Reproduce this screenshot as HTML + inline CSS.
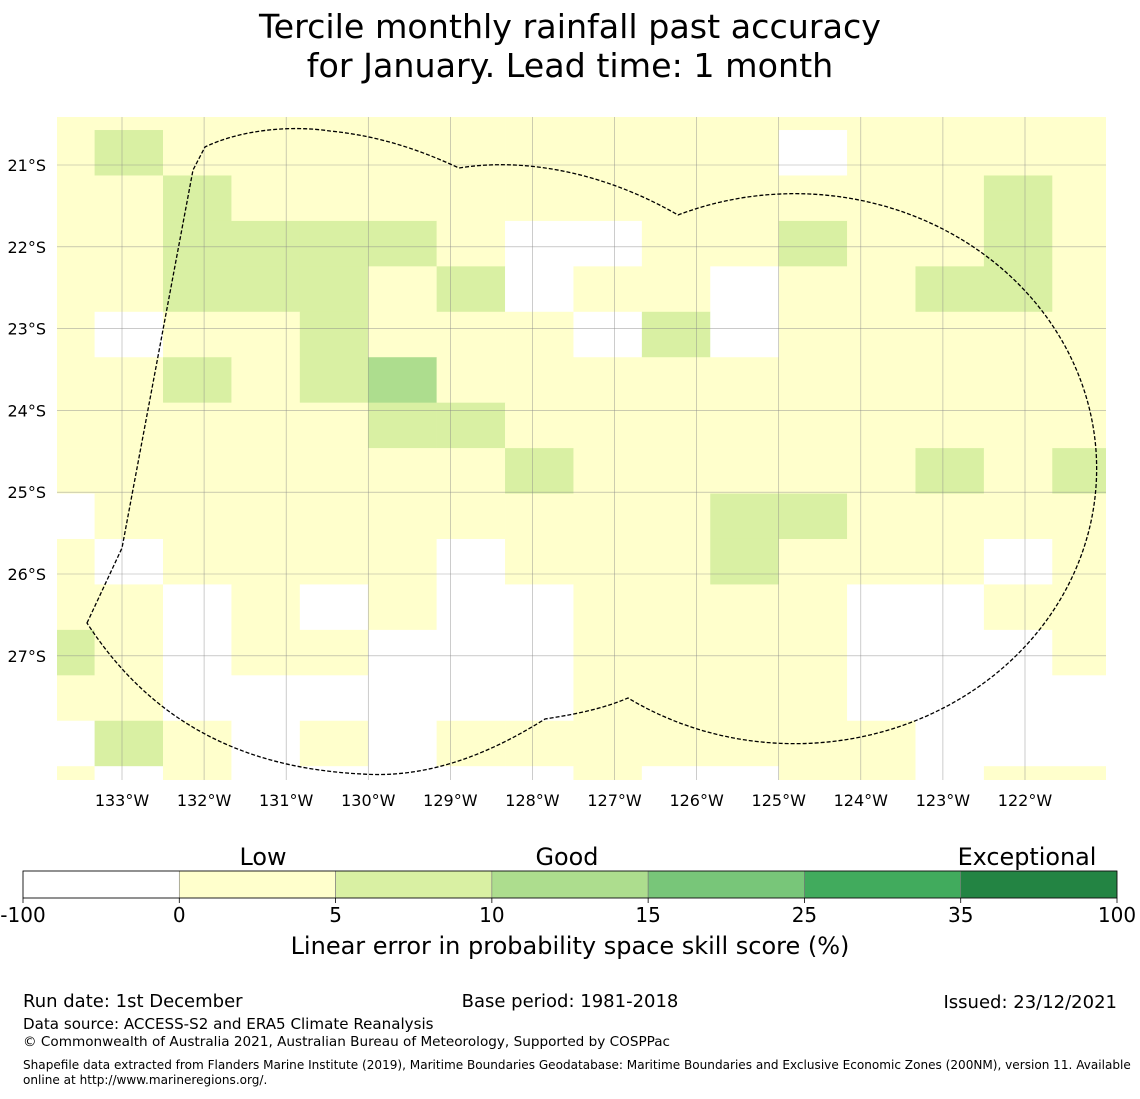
<!DOCTYPE html>
<html><head><meta charset="utf-8">
<style>
html,body{margin:0;padding:0;background:#fff;}
body{width:1140px;height:1095px;overflow:hidden;font-family:"DejaVu Sans","Liberation Sans",sans-serif;}
svg text{font-family:"DejaVu Sans","Liberation Sans",sans-serif;fill:#000;}
</style></head>
<body>
<svg id="chart" width="1140" height="1095" viewBox="0 0 1140 1095" xmlns="http://www.w3.org/2000/svg">
<g>
<text x="570" y="38" font-size="33.3" text-anchor="middle">Tercile monthly rainfall past accuracy</text>
<text x="570" y="77" font-size="33.3" text-anchor="middle">for January. Lead time: 1 month</text>
</g>
<defs><clipPath id="mapclip"><rect x="57" y="117" width="1049" height="663"/></clipPath></defs>
<g id="cells" clip-path="url(#mapclip)"></g>
<g id="grid" clip-path="url(#mapclip)"></g>
<path fill="none" stroke="#000" stroke-width="1.3" stroke-dasharray="4,2"
 d="M87,623 L122,548 L193,170 L205,147 C240,130 290,125 330,131 C380,136 420,150 459,168 C520,158 600,170 678,215 A302 275 0 1 1 628,698 C600,710 570,715 545,719 C480,760 420,778 362,774 C240,768 150,720 87,623 Z"/>
<g id="ticks"></g>
<g id="cbar"></g>
<g font-size="23.9">
<text x="263" y="865" text-anchor="middle">Low</text>
<text x="567" y="865" text-anchor="middle">Good</text>
<text x="1027" y="865" text-anchor="middle">Exceptional</text>
</g>
<text x="570" y="954" font-size="24" text-anchor="middle">Linear error in probability space skill score (%)</text>
<g>
<text x="23" y="1007" font-size="18">Run date: 1st December</text>
<text x="570" y="1007" font-size="18" text-anchor="middle">Base period: 1981-2018</text>
<text x="1117" y="1008" font-size="18" text-anchor="end">Issued: 23/12/2021</text>
<text x="23" y="1029" font-size="15.1">Data source: ACCESS-S2 and ERA5 Climate Reanalysis</text>
<text x="23" y="1046" font-size="13.6">© Commonwealth of Australia 2021, Australian Bureau of Meteorology, Supported by COSPPac</text>
<text x="23" y="1069" font-size="12.07">Shapefile data extracted from Flanders Marine Institute (2019), Maritime Boundaries Geodatabase: Maritime Boundaries and Exclusive Economic Zones (200NM), version 11. Available</text>
<text x="23" y="1084" font-size="12.07">online at http://www.marineregions.org/.</text>
</g>
</svg>
<script>
// data
const lonTicks = [-133,-132,-131,-130,-129,-128,-127,-126,-125,-124,-123,-122];
const latTicks = [-21,-22,-23,-24,-25,-26,-27];
const cellLon0 = -134.167, cellDLon = 0.8333;
const cellLat0 = -20.017, cellDLat = 0.5555;
// category per cell: 0 white(<0), 1 (0-5), 2 (5-10), 3 (10-15)
const gridRows = [
 "1111111111111111",
 "1211111111101111",
 "1121111111111121",
 "1122221001121121",
 "1122212011011221",
 "1011211102011111",
 "1121231111111111",
 "1111122111111111",
 "1111111211111212",
 "0111111111221111",
 "1011110111211101",
 "1101010011110011",
 "2101100011110001",
 "1100000011110000",
 "0210101111111000",
 "1010000010011011"
];
const cbBounds = [-100,0,5,10,15,25,35,100];
const cbColors = ["#ffffff","#ffffcc","#d9f0a3","#addd8e","#78c679","#41ab5d","#238443"];

const NS="http://www.w3.org/2000/svg";
const xOf = lon => 122 + (lon + 133) * 82.09;
const yOf = lat => 165 + (-lat - 21) * 81.8;
function mk(tag, attrs, parent){const e=document.createElementNS(NS,tag);for(const k in attrs)e.setAttribute(k,attrs[k]);parent.appendChild(e);return e;}

const cells=document.getElementById('cells');
gridRows.forEach((row,r)=>{
  [...row].forEach((ch,c)=>{
    const v=+ch;
    const x0=xOf(cellLon0+c*cellDLon), x1=xOf(cellLon0+(c+1)*cellDLon);
    const y0=yOf(cellLat0-r*cellDLat), y1=yOf(cellLat0-(r+1)*cellDLat);
    const el=mk('rect',{x:x0,y:y0,width:x1-x0+0.3,height:y1-y0+0.3,fill:cbColors[v]},cells);
    
    
  });
});
const grid=document.getElementById('grid'), ticks=document.getElementById('ticks');
lonTicks.forEach(lon=>{
  const x=xOf(lon);
  const l=mk('line',{x1:x,x2:x,y1:117,y2:780,stroke:'#888','stroke-width':0.6,'stroke-opacity':0.7},grid);
  
  
  const t=mk('text',{x:x,y:806,'font-size':16,'text-anchor':'middle'},ticks);
  t.textContent=Math.abs(lon)+'°W';
  
  
});
latTicks.forEach(lat=>{
  const y=yOf(lat);
  const l=mk('line',{x1:57,x2:1106,y1:y,y2:y,stroke:'#888','stroke-width':0.6,'stroke-opacity':0.7},grid);
  
  
  const t=mk('text',{x:46,y:y+6,'font-size':16,'text-anchor':'end'},ticks);
  t.textContent=Math.abs(lat)+'°S';
  
  
});
const cbar=document.getElementById('cbar');
const cbX0=23, cbX1=1117, n=cbColors.length, seg=(cbX1-cbX0)/n;
cbColors.forEach((col,i)=>{
  const r=mk('rect',{x:cbX0+i*seg,y:871,width:seg,height:27,fill:col,stroke:'#777','stroke-width':0.6},cbar);
  
  
});
mk('rect',{x:cbX0,y:871,width:cbX1-cbX0,height:27,fill:'none',stroke:'#000','stroke-width':0.8},cbar);
cbBounds.forEach((b,i)=>{
  const x=cbX0+i*seg;
  mk('line',{x1:x,x2:x,y1:898,y2:903,stroke:'#000','stroke-width':0.8},cbar);
  const t=mk('text',{x:x,y:922,'font-size':20,'text-anchor':'middle'},cbar);
  t.textContent=b;
  
  
});
</script>
</body></html>
